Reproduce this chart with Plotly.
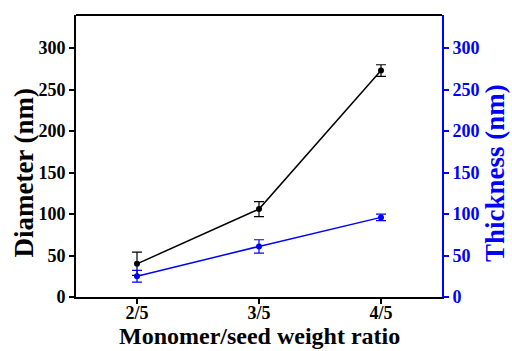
import plotly.graph_objects as go

ratios = ["2/5", "3/5", "4/5"]
ratio_pos = [1, 2, 3]
diameter = [40, 106, 273]
diameter_err = [14, 9, 7]
thickness = [25, 61, 96]
thickness_err = [7, 8, 4]
y_ticks = [0, 50, 100, 150, 200, 250, 300]

FONT = "Liberation Serif, Times New Roman, serif"
BLUE = "#0000ff"

fig = go.Figure()
fig.add_trace(go.Scatter(
    x=ratio_pos, y=diameter, mode="lines+markers",
    line=dict(color="black", width=1.5),
    marker=dict(color="black", size=6),
    error_y=dict(type="data", array=diameter_err, color="black", thickness=1.2, width=5),
    yaxis="y", showlegend=False,
))
fig.add_trace(go.Scatter(
    x=ratio_pos, y=thickness, mode="lines+markers",
    line=dict(color=BLUE, width=1.5),
    marker=dict(color=BLUE, size=6),
    error_y=dict(type="data", array=thickness_err, color=BLUE, thickness=1.2, width=5),
    yaxis="y2", showlegend=False,
))


def bold_font(size, color):
    return dict(family=FONT, size=size, color=color, weight="bold")


axis_common = dict(
    ticks="outside", ticklen=5, tickwidth=2,
    showline=True, linewidth=2,
    showgrid=False, zeroline=False, automargin=False,
)

fig.update_layout(
    width=512, height=351,
    margin=dict(l=76, r=70, t=15, b=54),
    paper_bgcolor="white", plot_bgcolor="white",
    font=dict(family=FONT),
    xaxis=dict(
        range=[0.5, 3.5], tickvals=ratio_pos, ticktext=ratios,
        tickcolor="black", linecolor="black",
        tickfont=bold_font(18, "black"), ticklabelstandoff=-7,
        **axis_common,
    ),
    yaxis=dict(
        range=[0, 340], tickvals=y_ticks,
        tickcolor="black", linecolor="black",
        tickfont=bold_font(18, "black"),
        **axis_common,
    ),
    yaxis2=dict(
        range=[0, 340], tickvals=y_ticks,
        overlaying="y", side="right",
        tickcolor=BLUE, linecolor=BLUE,
        tickfont=bold_font(18, BLUE),
        **axis_common,
    ),
    shapes=[dict(type="line", xref="paper", yref="paper", x0=0, x1=1, y0=1, y1=1,
                 line=dict(color="black", width=2))],
    annotations=[
        dict(text="Monomer/seed weight ratio", xref="paper", yref="paper",
             x=0.5, y=-0.14, yanchor="middle", showarrow=False,
             font=bold_font(24, "black"), borderpad=0),
        dict(text="Diameter (nm)", xref="paper", yref="paper", textangle=-90,
             x=-0.143, y=0.44, xanchor="center", yanchor="middle", showarrow=False,
             font=bold_font(27, "black")),
        dict(text="Thickness (nm)", xref="paper", yref="paper", textangle=-90,
             x=1.145, y=0.44, xanchor="center", yanchor="middle", showarrow=False,
             font=bold_font(27, BLUE)),
    ],
)

fig.write_html("out.html")
